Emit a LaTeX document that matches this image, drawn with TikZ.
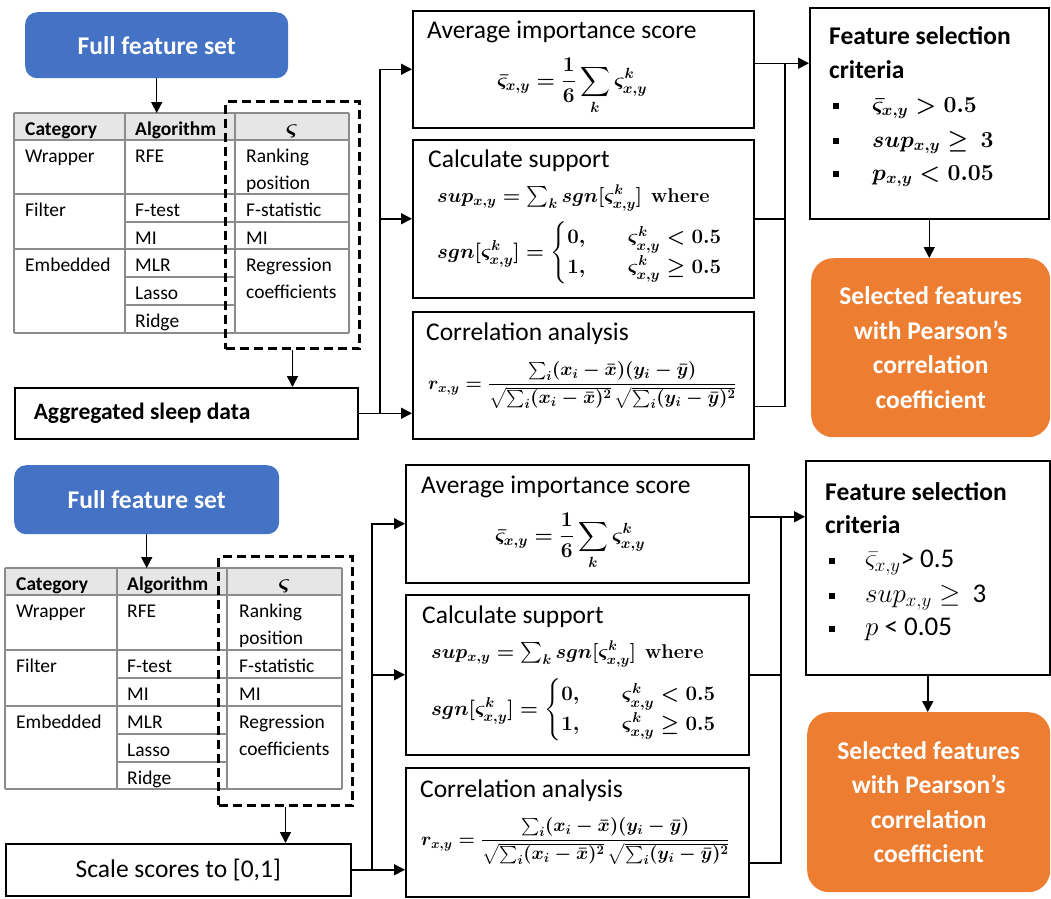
\RequirePackage{fix-cm}
\documentclass[tikz,border=0pt]{standalone}
\usepackage{amsmath}
\usepackage[no-math]{fontspec}
\setmainfont{Carlito}
\usetikzlibrary{arrows.meta}
\definecolor{featblue}{HTML}{4472C4}
\definecolor{featorange}{HTML}{ED7D31}
\definecolor{headgray}{HTML}{E7E6E6}
\definecolor{tabgray}{HTML}{8C8C8C}
\begin{document}
\begin{tikzpicture}[x=1pt, y=-1pt,
    box/.style={draw, line width=1.5pt, anchor=north west, inner sep=0pt},
    startbox/.style={fill=featblue, rounded corners=12pt, anchor=north west, text=white, font=\fontsize{25.5}{30}\selectfont\bfseries},
    endbox/.style={fill=featorange, rounded corners=22pt, anchor=north west, text=white, align=center, font=\fontsize{25.5}{34.5}\selectfont\bfseries},
    choice/.style={draw, line width=3pt, dash pattern=on 9pt off 5pt, anchor=north west, inner sep=0pt},
    cell/.style={anchor=base west, inner sep=0pt, font=\fontsize{19.5}{27}\selectfont},
    headcell/.style={cell, font=\fontsize{19.5}{27}\selectfont\bfseries},
    title/.style={anchor=base west, inner sep=0pt, font=\fontsize{25.5}{30}\selectfont},
    crit/.style={anchor=base west, inner sep=0pt, font=\fontsize{25.5}{30}\selectfont\bfseries},
    formula/.style={inner sep=0pt, font=\fontsize{20}{24}\selectfont\boldmath},
    item/.style={anchor=base west, inner sep=0pt, font=\fontsize{27}{30}\selectfont},
    arr/.style={line width=1.5pt, -{Triangle[length=11pt,width=11pt]}},
    wire/.style={line width=1.5pt},
    tabline/.style={draw=tabgray, line width=1.2pt},
  ]
  \useasboundingbox (0,0) rectangle (1051,898);

  % top panel
  \node[startbox, minimum width=263, minimum height=66] (full1) at (25,12) {Full feature set};
  \node[anchor=north west, inner sep=0pt, minimum width=335, minimum height=220] (tab1) at (14,113) {};
  \fill[headgray] (14,113) rectangle (349,140);
  \draw[tabline] (14,113) -- (349,113) (14,140) -- (349,140) (14,194) -- (349,194) (125,222) -- (349,222)
    (14,249) -- (349,249) (125,277) -- (235,277) (125,305) -- (235,305) (14,333) -- (349,333);
  \draw[tabline] (14,113) -- (14,333) (125,113) -- (125,333) (235,113) -- (235,333) (349,113) -- (349,333);
  \node[headcell] (cat1) at (25,135) {Category};
  \node[headcell] (alg1) at (135,135) {Algorithm};
  \node[cell, anchor=base, font=\fontsize{24}{27}\selectfont\boldmath] (sig1) at (292,135) {$\varsigma$};
  \node[cell] (wrap1) at (25,162) {Wrapper};
  \node[cell] (rfe1) at (135,162) {RFE};
  \node[cell] (rank1) at (246,162) {Ranking};
  \node[cell] (pos1) at (246,189) {position};
  \node[cell] (filt1) at (25,216) {Filter};
  \node[cell] (ftest1) at (135,216) {F-test};
  \node[cell] (fstat1) at (246,216) {F-statistic};
  \node[cell] (mia1) at (135,244) {MI};
  \node[cell] (mib1) at (246,244) {MI};
  \node[cell] (emb1) at (25,271) {Embedded};
  \node[cell] (mlr1) at (135,271) {MLR};
  \node[cell] (reg1) at (246,271) {Regression};
  \node[cell] (coef1) at (246,298) {coefficients};
  \node[cell] (lasso1) at (135,299) {Lasso};
  \node[cell] (ridge1) at (135,327) {Ridge};
  \node[choice, minimum width=134, minimum height=247] (dash1) at (224,100) {};
  \node[box, minimum width=343, minimum height=51, font=\fontsize{23.5}{28}\selectfont\bfseries] (agg1) at (14,387) {\makebox[305pt][l]{Aggregated sleep data}};

  \node[box, minimum width=341, minimum height=117] (avg1) at (412,10) {};
  \node[title] (avg1t) at (427,38) {Average importance score};
  \node[formula, font=\fontsize{21}{24}\selectfont\boldmath] (avg1f) at (572,86) {$\displaystyle \bar{\varsigma}_{x,y}=\frac{1}{6}\sum_{k}\varsigma^{k}_{x,y}$};
  \node[box, minimum width=341, minimum height=158] (sup1) at (412,139) {};
  \node[title] (sup1t) at (428,167) {Calculate support};
  \node[formula, anchor=base west] (sup1f) at (437,202) {$sup_{x,y}=\sum\nolimits_k sgn[\varsigma^k_{x,y}]\ \ \mathrm{where}$};
  \node[formula, anchor=west, font=\fontsize{20.5}{24}\selectfont\boldmath] (sgn1f) at (437,253) {$sgn[\varsigma^k_{x,y}]=\begin{cases}0,\hspace{22pt} & \varsigma^k_{x,y}<0.5\\ 1, & \varsigma^k_{x,y}\geq 0.5\end{cases}$};
  \node[box, minimum width=341, minimum height=127] (cor1) at (412,311) {};
  \node[title] (cor1t) at (426,340) {Correlation analysis};
  \node[formula, anchor=west, font=\fontsize{18.7}{24}\selectfont\boldmath] (cor1f) at (428,385) {$\displaystyle r_{x,y}=\frac{\sum_i(x_i-\bar{x})(y_i-\bar{y})}{\sqrt{\sum_i(x_i-\bar{x})^2}\,\sqrt{\sum_i(y_i-\bar{y})^2}}$};

  \node[box, minimum width=239, minimum height=211] (feat1) at (809,7) {};
  \node[crit] (feat1t) at (829,44) {Feature selection};
  \node[crit] (feat1c) at (829,78) {criteria};
  \node[item, font=\fontsize{23}{30}\selectfont\boldmath] (crit1a) at (833,112) {\rule[3pt]{6pt}{6pt}\hspace{33pt}$\bar{\varsigma}_{x,y}>0.5$};
  \node[item, font=\fontsize{23}{30}\selectfont\boldmath] (crit1b) at (833,147) {\rule[3pt]{6pt}{6pt}\hspace{33pt}$sup_{x,y}\geq\ 3$};
  \node[item, font=\fontsize{23}{30}\selectfont\boldmath] (crit1c) at (833,180) {\rule[3pt]{6pt}{6pt}\hspace{33pt}$p_{x,y}<0.05$};
  \node[endbox, minimum width=239, minimum height=179] (org1) at (811,258) {Selected features\\with Pearson's\\correlation\\coefficient};

  \coordinate (j1) at (380,412.5);
  \coordinate (j2) at (785,62.5);
  \draw[arr] (full1.south) -- (full1.south |- tab1.north);
  \draw[arr] (dash1.south) -- (dash1.south |- agg1.north);
  \draw[arr] (agg1.east) -- (agg1.east -| cor1.west);
  \draw[arr] (j1) |- (avg1.west);
  \draw[arr] (j1) |- (sup1.west);
  \draw[arr] ([yshift=6pt]avg1.east) -- ([yshift=6pt]avg1.east -| feat1.west);
  \draw[wire] (sup1.east) -| (j2);
  \draw[wire] ([yshift=-31pt]cor1.east) -| (j2);
  \draw[arr] (feat1.south) -- (feat1.south |- org1.north);

  % bottom panel
  \node[startbox, minimum width=265, minimum height=69] (full2) at (14,465) {Full feature set};
  \node[anchor=north west, inner sep=0pt, minimum width=337, minimum height=221] (tab2) at (5,568) {};
  \fill[headgray] (5,568) rectangle (342,595);
  \draw[tabline] (5,568) -- (342,568) (5,595) -- (342,595) (5,650) -- (342,650) (117,678) -- (342,678)
    (5,706) -- (342,706) (117,734) -- (227,734) (117,762) -- (227,762) (5,789) -- (342,789);
  \draw[tabline] (5,568) -- (5,789) (117,568) -- (117,789) (227,568) -- (227,789) (342,568) -- (342,789);
  \node[headcell] (cat2) at (16,590) {Category};
  \node[headcell] (alg2) at (127,590) {Algorithm};
  \node[cell, anchor=base, font=\fontsize{24}{27}\selectfont\boldmath] (sig2) at (284.5,590) {$\varsigma$};
  \node[cell] (wrap2) at (16,617) {Wrapper};
  \node[cell] (rfe2) at (127,617) {RFE};
  \node[cell] (rank2) at (239,617) {Ranking};
  \node[cell] (pos2) at (239,644) {position};
  \node[cell] (filt2) at (16,672) {Filter};
  \node[cell] (ftest2) at (127,672) {F-test};
  \node[cell] (fstat2) at (239,672) {F-statistic};
  \node[cell] (mia2) at (127,700) {MI};
  \node[cell] (mib2) at (239,700) {MI};
  \node[cell] (emb2) at (16,728) {Embedded};
  \node[cell] (mlr2) at (127,728) {MLR};
  \node[cell] (reg2) at (239,728) {Regression};
  \node[cell] (coef2) at (239,755) {coefficients};
  \node[cell] (lasso2) at (127,756) {Lasso};
  \node[cell] (ridge2) at (127,784) {Ridge};
  \node[choice, minimum width=134, minimum height=249] (dash2) at (217,555) {};
  \node[box, minimum width=345, minimum height=52, font=\fontsize{25.5}{30}\selectfont] (sc2) at (5,843) {Scale scores to [0,1]};

  \node[box, minimum width=343, minimum height=118] (avg2) at (405,464) {};
  \node[title] (avg2t) at (421,493) {Average importance score};
  \node[formula, font=\fontsize{21}{24}\selectfont\boldmath] (avg2f) at (570,541) {$\displaystyle \bar{\varsigma}_{x,y}=\frac{1}{6}\sum_{k}\varsigma^{k}_{x,y}$};
  \node[box, minimum width=343, minimum height=160] (sup2) at (405,594) {};
  \node[title] (sup2t) at (422,623) {Calculate support};
  \node[formula, anchor=base west] (sup2f) at (431,658) {$sup_{x,y}=\sum\nolimits_k sgn[\varsigma^k_{x,y}]\ \ \mathrm{where}$};
  \node[formula, anchor=west, font=\fontsize{20.5}{24}\selectfont\boldmath] (sgn2f) at (431,710) {$sgn[\varsigma^k_{x,y}]=\begin{cases}0,\hspace{22pt} & \varsigma^k_{x,y}<0.5\\ 1, & \varsigma^k_{x,y}\geq 0.5\end{cases}$};
  \node[box, minimum width=343, minimum height=129] (cor2) at (405,767) {};
  \node[title] (cor2t) at (420,797) {Correlation analysis};
  \node[formula, anchor=west, font=\fontsize{18.7}{24}\selectfont\boldmath] (cor2f) at (421,841) {$\displaystyle r_{x,y}=\frac{\sum_i(x_i-\bar{x})(y_i-\bar{y})}{\sqrt{\sum_i(x_i-\bar{x})^2}\,\sqrt{\sum_i(y_i-\bar{y})^2}}$};

  \node[box, minimum width=244, minimum height=214] (feat2) at (805,460) {};
  \node[crit] (feat2t) at (825,500) {Feature selection};
  \node[crit] (feat2c) at (825,533) {criteria};
  \node[item] (crit2a) at (829,567) {\rule[3pt]{6pt}{6pt}\hspace{30pt}$\bar{\varsigma}_{x,y}$> 0.5};
  \node[item] (crit2b) at (829,602) {\rule[3pt]{6pt}{6pt}\hspace{30pt}$sup_{x,y}\geq$\ \ 3};
  \node[item] (crit2c) at (829,635) {\rule[3pt]{6pt}{6pt}\hspace{30pt}$p$ < 0.05};
  \node[endbox, minimum width=243, minimum height=180] (org2) at (807,712) {Selected features\\with Pearson's\\correlation\\coefficient};

  \coordinate (j3) at (372,869);
  \coordinate (j4) at (781,516);
  \draw[arr] (full2.south) -- (full2.south |- tab2.north);
  \draw[arr] (dash2.south) -- (dash2.south |- sc2.north);
  \draw[arr] (sc2.east) -- (sc2.east -| cor2.west);
  \draw[arr] (j3) |- (avg2.west);
  \draw[arr] (j3) |- (sup2.west);
  \draw[arr] ([yshift=7pt]avg2.east) -- ([yshift=7pt]avg2.east -| feat2.west);
  \draw[wire] (sup2.east) -| (j4);
  \draw[wire] ([yshift=-30.5pt]cor2.east) -| (j4);
  \draw[arr] (feat2.south) -- (feat2.south |- org2.north);
\end{tikzpicture}
\end{document}
